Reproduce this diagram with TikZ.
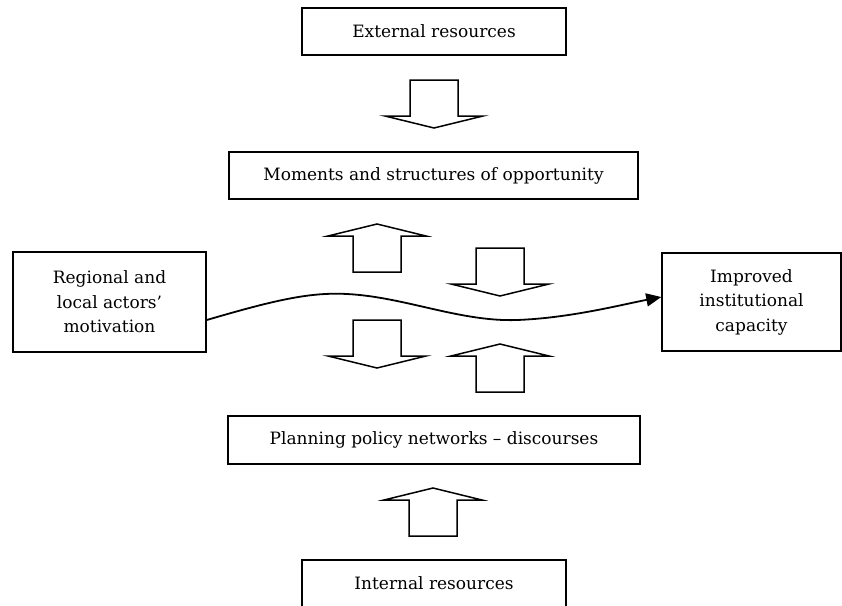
\documentclass[tikz,border=0pt]{standalone}
\usepackage{fontspec}
\setmainfont{DejaVu Serif}
\usetikzlibrary{arrows.meta}
\tikzset{
  box/.style={draw, line width=1.5pt, align=center, inner sep=0pt, font=\fontsize{17}{24.5}\selectfont},
  blk/.style={draw, line width=1.5pt, fill=white, line join=miter},
  flow/.style={line width=1.8pt, -{Triangle[length=15pt,width=13pt]}},
  blockdown/.pic={\path[blk] (-24,-48) -- (24,-48) -- (24,-12) -- (49,-12) -- (0,0) -- (-49,-12) -- (-24,-12) -- cycle;},
  blockup/.pic={\path[blk] (-24,48) -- (24,48) -- (24,12) -- (49,12) -- (0,0) -- (-49,12) -- (-24,12) -- cycle;}
}
\begin{document}
\begin{tikzpicture}[x=1pt,y=-1pt]
\useasboundingbox (0,0) rectangle (842,605);
\clip (0,0) rectangle (842,605);
\node[box, minimum width=264pt, minimum height=47pt] (ext) at (434,31.5) {External resources};
\node[box, minimum width=409pt, minimum height=47pt] (mom) at (433.5,175.5) {Moments and structures of opportunity};
\node[box, minimum width=193pt, minimum height=100pt] (act) at (109.5,302) {Regional and\\local actors'\\motivation};
\node[box, minimum width=179pt, minimum height=98pt] (cap) at (751.5,302) {Improved\\institutional\\capacity};
\node[box, minimum width=412pt, minimum height=48pt] (plan) at (434,440) {Planning policy networks -- discourses};
\node[box, minimum width=264pt, minimum height=47pt] (int) at (434,583.5) {Internal resources};
\pic at (434,128) {blockdown};
\pic at (377,224) {blockup};
\pic at (500,296) {blockdown};
\pic at (377,368) {blockdown};
\pic at (500,344) {blockup};
\pic at (433,488) {blockup};
\draw[flow] ([yshift=-18pt]act.east) .. controls (275,300) and (310,292) .. (347,294)
  .. controls (405,297) and (460,322) .. (517,320)
  .. controls (570,318) and (620,305) .. ([yshift=5pt]cap.west);
\end{tikzpicture}
\end{document}
